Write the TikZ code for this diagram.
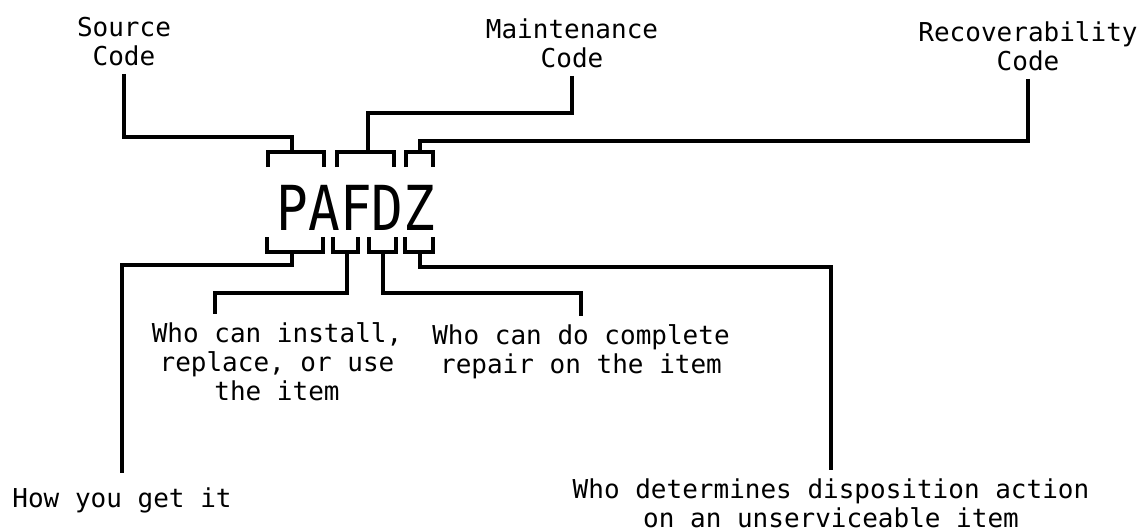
\documentclass[tikz,border=0pt]{standalone}
\usepackage{fontspec}
\setmonofont{DejaVu Sans Mono}
\usepackage{graphicx}
\usepackage{tikz}
\usetikzlibrary{calc}
\tikzset{
  tag/.style={
    font=\ttfamily\fontsize{13}{14.5}\selectfont,
    align=center,
    inner xsep=0pt,
    inner ysep=4pt
  },
  codeword/.style={
    font=\ttfamily\fontsize{31}{31}\selectfont,
    inner sep=0pt
  },
  leader/.style={line width=1.7pt, draw=black},
  bracketline/.style={line width=1.7pt, draw=black}
}

\begin{document}
\begin{tikzpicture}[x=0.5pt,y=-0.5pt]
\useasboundingbox (0,0) rectangle (1144,531);

\node[tag, anchor=base] (srccode) at (124,65) {Source\\Code};
\node[tag, anchor=base] (maintcode) at (572,67) {Maintenance\\Code};
\node[tag, anchor=base] (recovcode) at (1028,70) {Recoverability\\Code};

\node[codeword, anchor=base] (code) at (356,230) {\scalebox{0.85}[1]{PAFDZ}};

\foreach \l/\r in {268/324, 337/394, 406/433}
  \draw[bracketline] (\l,167) |- (\r,152) -- (\r,167);
\foreach \l/\r in {267/323, 333/358, 369/396, 405/433}
  \draw[bracketline] (\l,237) |- (\r,252) -- (\r,237);

\coordinate (topPA) at (292,152);
\coordinate (topFD) at (368,152);
\coordinate (topZ) at (420,152);
\coordinate (botPA) at (292,252);
\coordinate (botF) at (347,252);
\coordinate (botD) at (383,252);
\coordinate (botZ) at (420,252);

\node[tag, anchor=base, inner ysep=7pt] (howget) at (122,507) {How you get it};
\node[tag, anchor=base] (install) at (277,400) {Who can install,\\replace, or use\\the item};
\node[tag, anchor=base] (repair) at (581,373) {Who can do complete\\repair on the item};
\node[tag, anchor=base] (dispose) at (831,527) {Who determines disposition action\\on an unserviceable item};

\draw[leader] (srccode.south) |- ($(topPA)+(0,-15)$) -| (topPA);
\draw[leader] (maintcode.south) |- ($(topFD)+(0,-39)$) -| (topFD);
\draw[leader] (recovcode.south) |- ($(topZ)+(0,-11)$) -| (topZ);
\draw[leader] (botPA) -- ++(0,13) -| (howget.north);
\draw[leader] (botF) -- ++(0,41) -| ($(install.north)+(-62,0)$);
\draw[leader] (botD) -- ++(0,41) -| (repair.north);
\draw[leader] (botZ) -- ++(0,15) -| (dispose.north);

\end{tikzpicture}
\end{document}
